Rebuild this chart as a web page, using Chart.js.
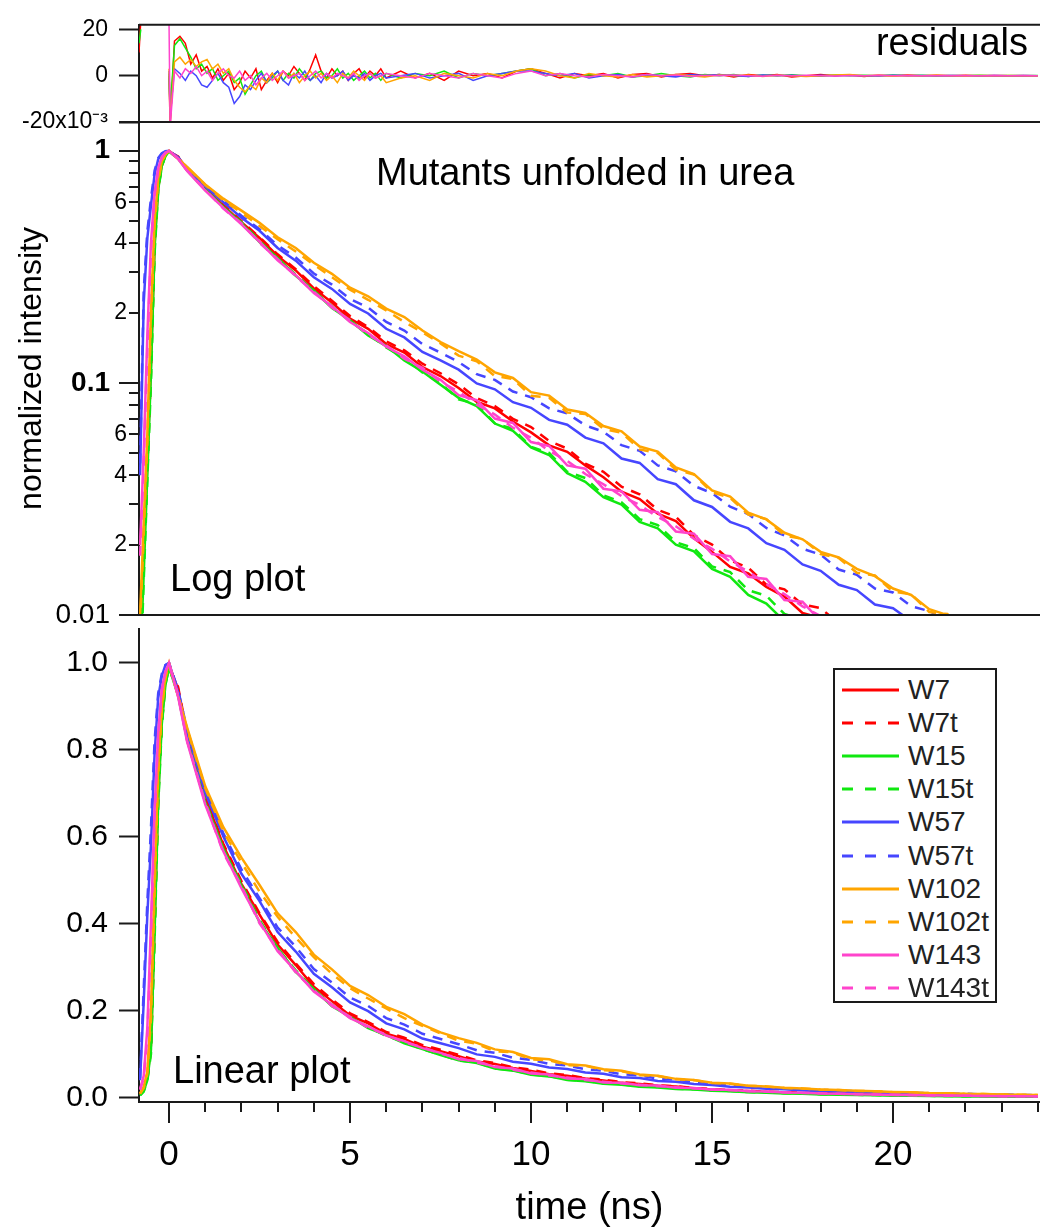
<!DOCTYPE html>
<html>
<head>
<meta charset="utf-8">
<script src="https://cdn.jsdelivr.net/npm/chart.js@4.4.1/dist/chart.umd.min.js"></script>
<style>
  body { margin: 0; background: #fff; }
  #wrap { position: relative; width: 1040px; height: 1231px; overflow: hidden; font-family: 'Liberation Sans', Arial, Helvetica, sans-serif; }
  #wrap canvas { position: absolute; left: 0; }
  .note { position: absolute; font-size: 38px; line-height: 38px; color: #000; white-space: nowrap; }
  #legend { position: absolute; left: 833px; top: 668px; width: 160px; height: 331px; border: 2px solid #1a1a1a; background: #fff; }
  .lrow { position: absolute; left: 0; height: 0; }
  .lrow svg { position: absolute; left: 7px; top: -3px; }
  .lrow span { position: absolute; left: 73px; top: -16px; font-size: 28px; line-height: 32px; color: #222; white-space: nowrap; }
</style>
</head>
<body>
<div id="wrap">
  <canvas id="resChart" width="1040" height="150" style="top:0px"></canvas>
  <canvas id="logChart" width="1040" height="560" style="top:100px"></canvas>
  <canvas id="linChart" width="1040" height="631" style="top:600px"></canvas>
  <div class="note" style="right:12px; top:23px">residuals</div>
  <div class="note" style="left:376px; top:153px">Mutants unfolded in urea</div>
  <div class="note" style="left:170px; top:559px">Log plot</div>
  <div class="note" style="left:173px; top:1051px">Linear plot</div>
  <div id="legend"></div>
</div>
<script>
// decay time axis (ns)
const time = [-0.8, -0.7, -0.6, -0.5, -0.4, -0.3, -0.2, -0.1, 0, 0.25, 0.5,
  1, 1.5, 2, 2.5, 3, 3.5, 4, 4.5, 5, 5.5, 6, 6.5, 7, 7.5, 8, 8.5, 9, 9.5, 10, 10.5,
  11, 11.5, 12, 12.5, 13, 13.5, 14, 14.5, 15, 15.5, 16, 16.5, 17, 17.5, 18, 18.5,
  19, 19.5, 20, 20.5, 21, 21.5, 22, 22.5, 23, 23.5, 24];

// normalized intensity
const W7 = [0.008, 0.02, 0.045, 0.12, 0.4, 0.7, 0.87, 0.96, 0.995, 0.94, 0.832,
  0.692, 0.580, 0.492, 0.421, 0.352, 0.305, 0.255, 0.222, 0.189, 0.171, 0.147, 0.135, 0.117, 0.107,
  0.0951, 0.0829, 0.0776, 0.0682, 0.0612, 0.0538, 0.0505, 0.0441, 0.0392, 0.0340, 0.0316, 0.0273,
  0.0254, 0.0214, 0.0187, 0.0161, 0.0151, 0.0132, 0.0120, 0.0102, 0.0097, 0.0088, 0.0083, 0.0071,
  0.0070, 0.0061, 0.0059, 0.0049, 0.0048, 0.0042, 0.0040, 0.0034, 0.0032];
const W7t = [0.007, 0.018, 0.042, 0.11, 0.38, 0.69, 0.86, 0.955, 0.99, 0.945, 0.838,
  0.695, 0.584, 0.498, 0.424, 0.358, 0.309, 0.261, 0.226, 0.194, 0.174, 0.151, 0.138, 0.121, 0.110,
  0.0985, 0.0860, 0.0795, 0.0700, 0.0645, 0.0562, 0.0521, 0.0449, 0.0414, 0.0357, 0.0331, 0.0284,
  0.0265, 0.0221, 0.0201, 0.0172, 0.0160, 0.0135, 0.0129, 0.0111, 0.0107, 0.0092, 0.0090, 0.0075,
  0.0074, 0.0064, 0.0062, 0.0052, 0.0051, 0.0044, 0.0042, 0.0036, 0.0034];
const W15 = [0.006, 0.015, 0.04, 0.11, 0.38, 0.68, 0.86, 0.95, 0.99, 0.925, 0.822,
  0.679, 0.573, 0.488, 0.404, 0.345, 0.289, 0.250, 0.210, 0.186, 0.160, 0.144, 0.125, 0.112, 0.0981,
  0.0862, 0.0795, 0.0668, 0.0621, 0.0527, 0.0489, 0.0408, 0.0375, 0.0322, 0.0299, 0.0252, 0.0236,
  0.0201, 0.0188, 0.0158, 0.0146, 0.0122, 0.0112, 0.0094, 0.0087, 0.0074, 0.0069, 0.0059, 0.0055,
  0.0046, 0.0044, 0.0037, 0.0035, 0.0029, 0.0028, 0.0023, 0.0022, 0.0019];
const W15t = [0.005, 0.014, 0.038, 0.10, 0.36, 0.67, 0.855, 0.95, 0.99, 0.928, 0.826,
  0.684, 0.570, 0.492, 0.409, 0.342, 0.293, 0.248, 0.214, 0.184, 0.163, 0.142, 0.128, 0.111, 0.0995,
  0.0850, 0.0808, 0.0670, 0.0634, 0.0530, 0.0499, 0.0414, 0.0389, 0.0328, 0.0306, 0.0259, 0.0244,
  0.0206, 0.0194, 0.0162, 0.0153, 0.0128, 0.0121, 0.0101, 0.0096, 0.0080, 0.0076, 0.0064, 0.0060,
  0.0050, 0.0049, 0.0041, 0.0038, 0.0032, 0.0031, 0.0026, 0.0025, 0.0021];
const W57 = [0.04, 0.22, 0.42, 0.58, 0.79, 0.92, 0.97, 0.995, 1.0, 0.933, 0.841,
  0.702, 0.601, 0.515, 0.452, 0.381, 0.336, 0.285, 0.254, 0.219, 0.199, 0.171, 0.157, 0.136, 0.125,
  0.114, 0.0995, 0.0938, 0.0826, 0.0781, 0.0693, 0.0660, 0.0581, 0.0549, 0.0472, 0.0452, 0.0385,
  0.0366, 0.0312, 0.0292, 0.0252, 0.0236, 0.0204, 0.0191, 0.0165, 0.0155, 0.0135, 0.0128, 0.0111,
  0.0107, 0.0094, 0.0092, 0.0079, 0.0077, 0.0066, 0.0064, 0.0055, 0.0052];
const W57t = [0.045, 0.25, 0.45, 0.62, 0.82, 0.93, 0.975, 0.995, 1.0, 0.938, 0.847,
  0.708, 0.608, 0.525, 0.459, 0.391, 0.347, 0.296, 0.265, 0.230, 0.211, 0.183, 0.168, 0.147, 0.135,
  0.123, 0.109, 0.103, 0.0918, 0.0867, 0.0777, 0.0739, 0.0656, 0.0616, 0.0539, 0.0510, 0.0441,
  0.0416, 0.0360, 0.0335, 0.0293, 0.0272, 0.0237, 0.0220, 0.0193, 0.0182, 0.0157, 0.0149, 0.0130,
  0.0125, 0.0109, 0.0104, 0.0092, 0.0089, 0.0077, 0.0074, 0.0063, 0.0060];
const W102 = [0.010, 0.025, 0.06, 0.2, 0.5, 0.76, 0.9, 0.97, 1.0, 0.923, 0.851,
  0.716, 0.622, 0.552, 0.489, 0.424, 0.381, 0.329, 0.295, 0.257, 0.236, 0.209, 0.192, 0.168, 0.150,
  0.137, 0.126, 0.111, 0.105, 0.0912, 0.0881, 0.0768, 0.0742, 0.0652, 0.0618, 0.0532, 0.0506,
  0.0432, 0.0405, 0.0344, 0.0324, 0.0276, 0.0258, 0.0226, 0.0212, 0.0187, 0.0177, 0.0158, 0.0147,
  0.0130, 0.0122, 0.0106, 0.0100, 0.0087, 0.0084, 0.0072, 0.0069, 0.0061];
const W102t = [0.009, 0.022, 0.055, 0.18, 0.47, 0.74, 0.89, 0.965, 0.995, 0.925, 0.848,
  0.712, 0.612, 0.541, 0.474, 0.416, 0.368, 0.323, 0.285, 0.252, 0.228, 0.205, 0.183, 0.165, 0.148,
  0.131, 0.124, 0.107, 0.104, 0.0880, 0.0863, 0.0745, 0.0735, 0.0633, 0.0610, 0.0517, 0.0499,
  0.0422, 0.0403, 0.0338, 0.0320, 0.0271, 0.0259, 0.0220, 0.0213, 0.0183, 0.0176, 0.0152, 0.0148,
  0.0126, 0.0123, 0.0103, 0.0101, 0.0085, 0.0083, 0.0071, 0.0069, 0.0061];
const W143 = [0.02, 0.05, 0.16, 0.40, 0.66, 0.84, 0.94, 0.98, 1.0, 0.922, 0.818,
  0.674, 0.567, 0.482, 0.405, 0.337, 0.291, 0.244, 0.214, 0.183, 0.164, 0.143, 0.130, 0.114, 0.103,
  0.0885, 0.0842, 0.0702, 0.0672, 0.0556, 0.0535, 0.0441, 0.0427, 0.0350, 0.0341, 0.0284, 0.0277,
  0.0229, 0.0224, 0.0183, 0.0179, 0.0146, 0.0143, 0.0116, 0.0114, 0.0094, 0.0091, 0.0076, 0.0073,
  0.0062, 0.0060, 0.0050, 0.0048, 0.0041, 0.0039, 0.0033, 0.0032, 0.0028];
const W143t = [0.018, 0.045, 0.14, 0.37, 0.64, 0.83, 0.935, 0.98, 0.998, 0.926, 0.821,
  0.679, 0.563, 0.487, 0.401, 0.341, 0.288, 0.247, 0.211, 0.186, 0.161, 0.145, 0.127, 0.116, 0.101,
  0.0918, 0.0806, 0.0731, 0.0641, 0.0580, 0.0509, 0.0461, 0.0405, 0.0366, 0.0325, 0.0298, 0.0264,
  0.0241, 0.0213, 0.0193, 0.0170, 0.0154, 0.0136, 0.0123, 0.0109, 0.0099, 0.0087, 0.0080, 0.0070,
  0.0065, 0.0057, 0.0053, 0.0046, 0.0043, 0.0037, 0.0035, 0.0030, 0.0029];

// residuals, in units of 1e-3
const resTime = [-0.83, -0.78, -0.5, 0, 0.03, 0.15, 0.3, 0.45, 0.6, 0.75,
  0.9, 1.05, 1.2, 1.35, 1.5, 1.65, 1.8, 1.95, 2.1, 2.25,
  2.4, 2.55, 2.7, 2.85, 3.0, 3.15, 3.3, 3.45, 3.6, 3.75,
  3.9, 4.05, 4.2, 4.35, 4.5, 4.65, 4.8, 4.95, 5.1, 5.25,
  5.4, 5.55, 5.7, 5.85, 6.0, 6.4, 6.8, 7.2, 7.6, 8.0,
  8.4, 8.8, 9.2, 9.6, 10.0, 10.4, 10.8, 11.2, 11.6, 12.0,
  12.4, 12.8, 13.2, 13.6, 14.0, 14.4, 14.8, 15.2, 15.6, 16.0,
  16.4, 16.8, 17.2, 17.6, 18.0, 18.4, 18.8, 19.2, 19.6, 20.0,
  20.4, 20.8, 21.2, 21.6, 22.0, 22.4, 22.8, 23.2, 23.6, 24.0];
const resW7 = [10, 24, null, 0, -22, 15, 17, 14, 5, 9,
  2, 4, -1, 3, -2, 1, -6, -3, 2, -1,
  3, -6, -2, 1, -3, 2, 0, 4, 1, -2,
  3, 9, 2, -1, 3, 0, 2, -2, 1, 3,
  -1, 2, 0, 3, -1, 2, -1, 1, -2, 2,
  0, 1, -1, 2, 3, 1, -1, 1, 0, 1,
  -1, 0.5, 1, -0.5, 0.5, 1, 0, 0.5, -0.5, 0.5,
  0, 0.5, -0.5, 0, 0.5, 0, 0.3, -0.3, 0.2, 0,
  0.3, 0, 0.2, 0, 0.2, 0, 0.1, 0, 0.1, 0];
const resW15 = [14, 20, null, 1, -15, 13, 16, 12, 8, 3,
  5, 1, 3, -2, 0, 2, -3, -1, -8, -4,
  0, 2, -3, -1, 2, -2, 1, -1, 3, 0,
  -2, 1, 2, -1, 0, 3, -1, 1, -2, 0,
  2, -1, 1, -2, 1, -1, 1, 0, 2, -1,
  1, 0, 1, 2, 3, 0, 1, -1, 0.5, 0,
  1, -0.5, 0, 1, 0, -0.5, 0.5, 0, 0.5, -0.3,
  0.3, 0, 0.4, 0, -0.2, 0.3, 0, 0.2, 0, 0.3,
  0, 0.2, -0.1, 0.1, 0, 0.2, 0, 0.1, 0, 0.1];
const resW57 = [null, null, null, 2, -18, 3, 1, -2, 2, 0,
  -4, -5, -2, 1, -3, -5, -12, -9, -4, -6,
  -2, 1, -3, 0, 2, -2, -4, 1, -1, 2,
  -2, 0, -3, 1, -1, 0, 2, -2, 0, -1,
  1, -2, 0, 1, -1, 0, 1, -1, 0, 1,
  -2, 0, 1, 2, 2, 1, 0, 1, -1, 0,
  0.5, -0.5, 0.5, 0, -0.5, 0.5, 0, 0.5, 0, -0.3,
  0.3, 0, 0.2, -0.2, 0.2, 0, 0.2, 0, -0.1, 0.2,
  0, 0.1, 0, 0.1, 0, -0.1, 0.1, 0, 0.1, 0];
const resW102 = [null, null, null, 3, -20, 6, 8, 5, 7, 4,
  6, 7, 3, 5, 1, 3, -2, -5, -7, -4,
  -6, -1, -3, 1, -2, 2, -1, 1, -3, 0,
  2, -1, 1, -2, 0, -3, 1, -1, 2, 0,
  -2, 1, -1, 0, -3, -1, 0, -2, 1, 0,
  -1, 1, 0, 2, 3, 2, 0, -1, 1, 0,
  -0.5, 0.5, -0.5, 0, 0.5, 0, -0.5, 0.3, 0, 0.3,
  -0.3, 0.2, 0, -0.3, 0, 0.3, 0.5, 0, 0.2, -0.2,
  0.1, 0, 0.2, 0, -0.1, 0.1, 0, 0.1, 0, 0];
const resW143 = [null, null, null, 22, -22, 2, -1, 3, 1, 4,
  0, 2, -2, 1, 3, 0, -1, 2, -2, 0,
  -4, -1, 1, -2, 0, 2, -1, 0, 1, -2,
  0, 2, -1, 1, -1, 1, 0, -1, 1, -2,
  0, 1, -1, 0, 1, 0, -1, 1, 0, -1,
  1, 0, -1, 1, 2, 0, 1, 0, -0.5, 0.5,
  0, -0.5, 0.5, 0, 0.3, -0.3, 0.2, 0, 0.3, 0,
  -0.2, 0.2, 0, 0.2, 0, -0.1, 0.1, 0, 0.2, 0,
  0.1, 0, 0, 0.1, 0, 0, 0.1, 0, 0, 0];

const seriesNames = ['W7', 'W7t', 'W15', 'W15t', 'W57', 'W57t', 'W102', 'W102t', 'W143', 'W143t'];
const seriesValues = [W7, W7t, W15, W15t, W57, W57t, W102, W102t, W143, W143t];
const residualValues = [resW7, resW15, resW57, resW102, resW143];

// tick labels
const resTicks = [-20, 0, 20];
const linTicks = [0, 0.2, 0.4, 0.6, 0.8, 1.0];
const logMajorTicks = [1, 0.1, 0.01];
const logMajorLabels = ['1', '0.1', '0.01'];
const logMinorTicks = [0.9, 0.8, 0.7, 0.6, 0.5, 0.4, 0.3, 0.2, 0.09, 0.08, 0.07, 0.06, 0.05, 0.04, 0.03, 0.02];
const logMinorLabels = ['', '', '', '6', '', '4', '', '2', '', '', '', '6', '', '4', '', '2'];
const xTicks = Array.from({ length: 25 }, (_, i) => i);

// styles
const red = '#ff0000', green = '#10e810', blue = '#4646ff', orange = '#ffa500', pink = '#ff44cc';
const seriesColors = [red, red, green, green, blue, blue, orange, orange, pink, pink];
const seriesDashed = [false, true, false, true, false, true, false, true, false, true];
const residualColors = [red, green, blue, orange, pink];
const axisColor = '#1a1a1a';
const fontFamily = "'Liberation Sans', Arial, Helvetica, sans-serif";
const xMin = -0.83, xMax = 24.06;

Chart.defaults.font.family = fontFamily;
Chart.defaults.color = '#000';

function decaySets() {
  return seriesNames.map((name, i) => ({
    label: name,
    data: time.map((t, k) => ({ x: t, y: seriesValues[i][k] })),
    borderColor: seriesColors[i],
    borderWidth: 2.5,
    borderDash: seriesDashed[i] ? [10, 8] : [],
    pointRadius: 0,
    order: seriesNames.length - i
  }));
}

const residualSets = residualValues.map((vals, i) => ({
  data: resTime.map((t, k) => ({ x: t, y: vals[k] })),
  borderColor: residualColors[i],
  borderWidth: 1.5,
  pointRadius: 0,
  order: residualValues.length - i
}));

const baseOpts = {
  responsive: false,
  animation: false,
  devicePixelRatio: 1,
  events: [],
  plugins: { legend: { display: false }, tooltip: { enabled: false } }
};

function hiddenX() {
  return { type: 'linear', min: xMin, max: xMax, display: false };
}

const leftWidth = s => { s.width = 139; };

// top line and bottom line of the residual panel
const resFrame = {
  id: 'resFrame',
  afterDraw(chart) {
    const { ctx, chartArea: a } = chart;
    ctx.save();
    ctx.strokeStyle = axisColor;
    ctx.lineWidth = 2;
    ctx.beginPath();
    ctx.moveTo(a.left, a.top);
    ctx.lineTo(a.right, a.top);
    ctx.moveTo(a.left - 20, a.bottom);
    ctx.lineTo(a.right, a.bottom);
    ctx.stroke();
    ctx.restore();
  }
};

// log axis: long decade ticks, short minor ticks, small 2/4/6 labels
const logAxis = {
  id: 'logAxis',
  afterDraw(chart) {
    const { ctx, chartArea: a } = chart;
    const y = chart.scales.y;
    ctx.save();
    ctx.strokeStyle = axisColor;
    ctx.lineWidth = 2;
    ctx.beginPath();
    logMinorTicks.forEach(v => {
      const p = Math.round(y.getPixelForValue(v));
      ctx.moveTo(a.left - 10, p);
      ctx.lineTo(a.left, p);
    });
    logMajorTicks.forEach(v => {
      const p = Math.round(y.getPixelForValue(v));
      ctx.moveTo(a.left - 20, p);
      ctx.lineTo(a.left, p);
    });
    ctx.moveTo(a.right, a.bottom);
    ctx.lineTo(a.left - 20, a.bottom);
    ctx.stroke();

    ctx.fillStyle = '#000';
    ctx.textAlign = 'right';
    ctx.textBaseline = 'middle';
    logMajorTicks.forEach((v, i) => {
      ctx.font = (i < 2 ? 'bold ' : '') + '28px ' + fontFamily;
      ctx.fillText(logMajorLabels[i], a.left - 29, y.getPixelForValue(v));
    });
    ctx.font = '23px ' + fontFamily;
    logMinorTicks.forEach((v, i) => {
      if (logMinorLabels[i]) ctx.fillText(logMinorLabels[i], a.left - 12, y.getPixelForValue(v));
    });
    ctx.restore();
  }
};

// time axis ticks pointing down
const timeTicks = {
  id: 'timeTicks',
  afterDraw(chart) {
    const { ctx, chartArea: a } = chart;
    const x = chart.scales.x;
    ctx.save();
    ctx.strokeStyle = axisColor;
    ctx.lineWidth = 2;
    ctx.beginPath();
    xTicks.forEach(v => {
      const p = Math.round(x.getPixelForValue(v));
      const len = v % 5 === 0 ? 21 : 10;
      ctx.moveTo(p, a.bottom);
      ctx.lineTo(p, a.bottom + len);
    });
    ctx.stroke();
    ctx.restore();
  }
};

new Chart(document.getElementById('resChart'), {
  type: 'line',
  data: { datasets: residualSets },
  options: {
    ...baseOpts,
    layout: { padding: { top: 19, bottom: 28, left: 0, right: 0 } },
    scales: {
      x: hiddenX(),
      y: {
        type: 'linear', min: -20, max: 22,
        afterFit: leftWidth,
        afterBuildTicks: s => { s.ticks = resTicks.map(v => ({ value: v })); },
        border: { display: true, color: axisColor, width: 2 },
        grid: { drawOnChartArea: false, drawTicks: true, tickLength: 20, tickWidth: 2, tickColor: axisColor },
        ticks: {
          padding: 11, font: { size: 23 }, color: '#000',
          callback: v => v === -20 ? '-20x10\u207B\u00B3' : String(v)
        }
      }
    }
  },
  plugins: [resFrame]
});

new Chart(document.getElementById('logChart'), {
  type: 'line',
  data: { datasets: decaySets() },
  options: {
    ...baseOpts,
    layout: { padding: { top: 22, bottom: 45, left: 0, right: 0 } },
    scales: {
      x: hiddenX(),
      y: {
        type: 'logarithmic', min: 0.01, max: 1.33,
        afterFit: leftWidth,
        border: { display: true, color: axisColor, width: 2 },
        grid: { display: false },
        ticks: { display: false },
        title: {
          display: true, text: 'normalized intensity', color: '#000',
          font: { size: 32 }, padding: { top: 13, bottom: 0 }
        }
      }
    }
  },
  plugins: [logAxis]
});

new Chart(document.getElementById('linChart'), {
  type: 'line',
  data: { datasets: decaySets() },
  options: {
    ...baseOpts,
    layout: { padding: { top: 15, bottom: 0, left: 0, right: 0 } },
    scales: {
      x: {
        type: 'linear', min: xMin, max: xMax,
        afterFit: s => { s.height = 129; s.paddingLeft = 0; s.paddingRight = 0; },
        afterBuildTicks: s => { s.ticks = xTicks.map(v => ({ value: v })); },
        border: { display: true, color: axisColor, width: 2 },
        grid: { display: false },
        ticks: {
          padding: 24, font: { size: 35 }, color: '#000', autoSkip: false, maxRotation: 0,
          callback: v => v % 5 === 0 ? String(v) : ''
        },
        title: {
          display: true, text: 'time (ns)', color: '#000',
          font: { size: 38 }, padding: { top: 0, bottom: 0 }
        }
      },
      y: {
        type: 'linear', min: -0.01, max: 1.078,
        afterFit: leftWidth,
        afterBuildTicks: s => { s.ticks = linTicks.map(v => ({ value: v })); },
        border: { display: true, color: axisColor, width: 2 },
        grid: { drawOnChartArea: false, drawTicks: true, tickLength: 20, tickWidth: 2, tickColor: axisColor },
        ticks: { padding: 11, font: { size: 30 }, color: '#000', callback: v => v.toFixed(1) }
      }
    }
  },
  plugins: [timeTicks]
});

// legend box
const legend = document.getElementById('legend');
seriesNames.forEach((name, i) => {
  const row = document.createElement('div');
  row.className = 'lrow';
  row.style.top = (20 + i * 33.1) + 'px';
  const dash = seriesDashed[i] ? ' stroke-dasharray="11 12"' : '';
  row.innerHTML = '<svg width="58" height="6"><line x1="0" y1="3" x2="57" y2="3" stroke="' +
    seriesColors[i] + '" stroke-width="3"' + dash + '/></svg><span>' + name + '</span>';
  legend.appendChild(row);
});
</script>
</body>
</html>
